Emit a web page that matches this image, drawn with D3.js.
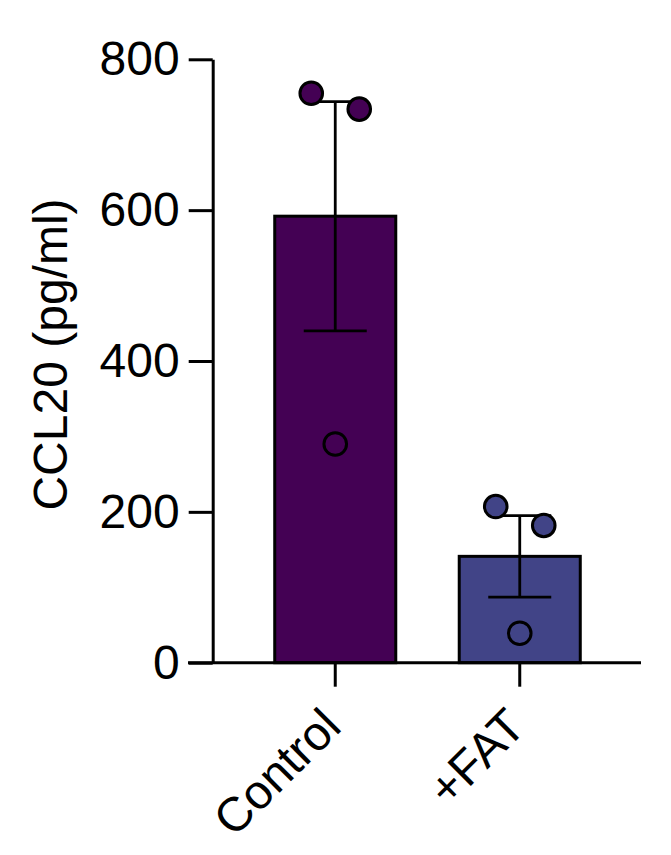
<!DOCTYPE html>
<html>
<head>
<meta charset="utf-8">
<script src="https://cdn.jsdelivr.net/npm/d3@7"></script>
<style>
  body { margin: 0; background: #fff; }
  svg text { font-family: "Liberation Sans", Arial, sans-serif; fill: #000; }
</style>
</head>
<body>
<svg id="chart" width="671" height="855"></svg>
<script>
// values
var groups = ["Control", "+FAT"];
var means = [592, 141];
var sems = [152, 54];
var points = [
    [755, 734, 290],
    [207, 182, 39]
];
var colors = ["#440154", "#414487"];
var yTicks = [0, 200, 400, 600, 800];
var yLabel = "CCL20 (pg/ml)";

var spread = [-1, 1, 0];  // sideways spread of the replicate dots
var spreadStep = 24;

var svg = d3.select("#chart");

var y = d3.scaleLinear().domain([0, 800]).range([662.7, 59.3]);
var x = d3.scaleBand()
    .domain(groups)
    .range([243, 612])
    .paddingInner(0.344)
    .paddingOuter(0.172);

var axisX = 212.7;
var baseY = y(0);

// bars
svg.selectAll(".bar")
    .data(groups)
    .enter()
    .append("rect")
    .attr("class", "bar")
    .attr("x", function (d) { return x(d) })
    .attr("y", function (d, i) { return y(means[i]) })
    .attr("width", x.bandwidth())
    .attr("height", function (d, i) { return baseY - y(means[i]) })
    .style("fill", function (d, i) { return colors[i] })
    .style("stroke", "#000")
    .style("stroke-width", 3);

// error bars (mean +/- SEM)
var capHalf = 31.5;
var err = svg.selectAll(".err")
    .data(groups)
    .enter()
    .append("g")
    .attr("class", "err")
    .style("stroke", "#000")
    .style("stroke-width", 2.8);

err.append("line")
    .attr("x1", function (d) { return x(d) + x.bandwidth() / 2 })
    .attr("x2", function (d) { return x(d) + x.bandwidth() / 2 })
    .attr("y1", function (d, i) { return y(means[i] - sems[i]) })
    .attr("y2", function (d, i) { return y(means[i] + sems[i]) });

[1, -1].forEach(function (sign) {
    err.append("line")
        .attr("x1", function (d) { return x(d) + x.bandwidth() / 2 - capHalf })
        .attr("x2", function (d) { return x(d) + x.bandwidth() / 2 + capHalf })
        .attr("y1", function (d, i) { return y(means[i] + sign * sems[i]) })
        .attr("y2", function (d, i) { return y(means[i] + sign * sems[i]) });
});

// replicate dots
groups.forEach(function (g, gi) {
    svg.selectAll(".dot" + gi)
        .data(points[gi])
        .enter()
        .append("circle")
        .attr("class", "dot" + gi)
        .attr("cx", function (d, i) { return x(g) + x.bandwidth() / 2 + spread[i] * spreadStep })
        .attr("cy", function (d) { return y(d) })
        .attr("r", 11.3)
        .style("fill", colors[gi])
        .style("stroke", "#000")
        .style("stroke-width", 3);
});

// y axis
var yAxis = svg.append("g")
    .attr("transform", "translate(" + axisX + ",0)")
    .call(d3.axisLeft(y).tickValues(yTicks).tickSize(24).tickSizeOuter(0).tickPadding(9));
yAxis.select(".domain").attr("stroke-width", 3);
yAxis.selectAll(".tick line").attr("stroke-width", 3);
yAxis.selectAll(".tick text").style("font-size", "48px");

// x axis
var xAxis = svg.append("g")
    .attr("transform", "translate(0," + baseY + ")")
    .call(d3.axisBottom(x).tickSize(24).tickSizeOuter(0).tickFormat(""));
xAxis.select(".domain").attr("d", "M188,0H641").attr("stroke-width", 3);
xAxis.selectAll(".tick line").attr("stroke-width", 3);

svg.selectAll(".xlabel")
    .data(groups)
    .enter()
    .append("text")
    .attr("class", "xlabel")
    .attr("transform", function (d) {
        return "translate(" + (x(d) + x.bandwidth() / 2 + 8) + ",729) rotate(-45)";
    })
    .attr("text-anchor", "end")
    .style("font-size", "48px")
    .text(function (d) { return d });

// y label
svg.append("text")
    .attr("transform", "translate(67,354.5) rotate(-90)")
    .attr("text-anchor", "middle")
    .style("font-size", "48px")
    .text(yLabel);
</script>
</body>
</html>
